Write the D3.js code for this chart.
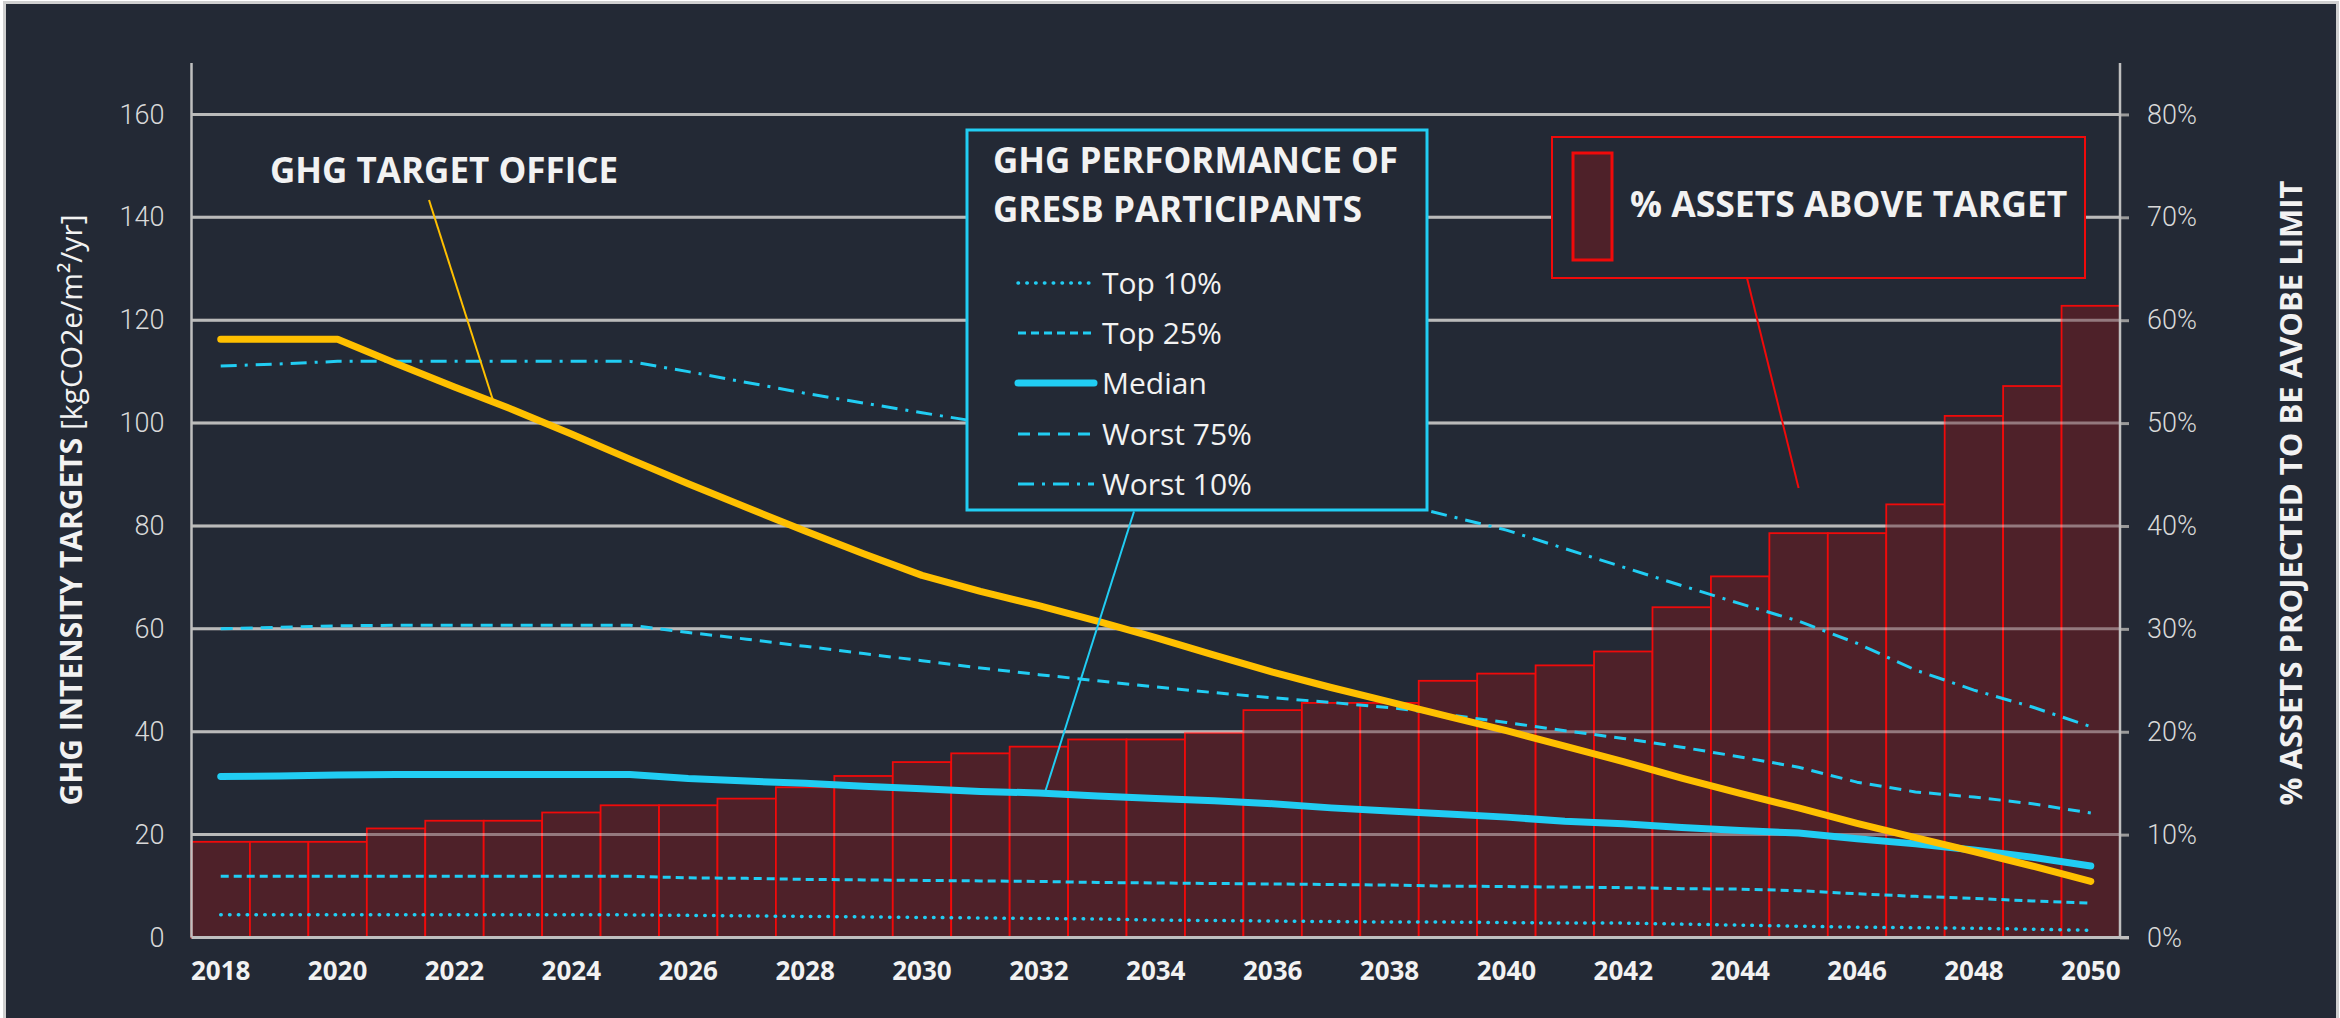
<!DOCTYPE html>
<html>
<head>
<meta charset="utf-8">
<script src="https://cdn.jsdelivr.net/npm/d3@7"></script>
<style>
  html, body { margin: 0; padding: 0; background: #ffffff; }
  svg { display: block; }
</style>
</head>
<body>
<div class="container"></div>
<script>
/* Chart data */
const years = d3.range(2018, 2051);
const pctAbove = [0.093, 0.093, 0.093, 0.106, 0.1135, 0.1135, 0.1215, 0.1285, 0.1285, 0.135,
                  0.146, 0.157, 0.1705, 0.179, 0.1855, 0.1925, 0.1925, 0.199, 0.221, 0.228,
                  0.228, 0.2495, 0.2565, 0.2645, 0.278, 0.321, 0.351, 0.393, 0.393, 0.421,
                  0.507, 0.536, 0.614];
const targetOffice = [116.3, 116.3, 116.3, 111.6, 107.0, 102.6, 97.9, 93.0, 88.2, 83.6,
                      79.0, 74.6, 70.4, 67.3, 64.5, 61.5, 58.3, 54.9, 51.6, 48.6,
                      45.8, 43.0, 40.2, 37.2, 34.2, 31.0, 28.0, 25.2, 22.2, 19.4,
                      16.7, 13.9, 10.9];
const top10 = [4.4, 4.4, 4.4, 4.4, 4.4, 4.4, 4.4, 4.4, 4.3, 4.2,
               4.1, 4.0, 3.9, 3.8, 3.7, 3.6, 3.4, 3.3, 3.2, 3.1,
               3.0, 3.0, 2.9, 2.8, 2.8, 2.6, 2.4, 2.2, 2.0, 1.9,
               1.8, 1.6, 1.4];
const top25 = [11.9, 11.9, 11.9, 11.9, 11.9, 11.9, 11.9, 11.9, 11.6, 11.5,
               11.3, 11.2, 11.1, 11.0, 10.9, 10.7, 10.6, 10.5, 10.4, 10.3,
               10.2, 10.0, 9.9, 9.8, 9.7, 9.5, 9.4, 9.1, 8.5, 8.0,
               7.6, 7.1, 6.7];
const median = [31.3, 31.4, 31.6, 31.7, 31.7, 31.7, 31.7, 31.7, 30.9, 30.4,
                30.0, 29.4, 28.9, 28.4, 28.1, 27.5, 27.0, 26.6, 26.0, 25.2,
                24.6, 24.0, 23.4, 22.6, 22.1, 21.4, 20.8, 20.3, 19.2, 18.2,
                17.0, 15.6, 13.9];
const worst75 = [60.0, 60.3, 60.6, 60.7, 60.7, 60.7, 60.7, 60.7, 59.3, 58.0,
                 56.6, 55.2, 53.8, 52.4, 51.1, 49.9, 48.7, 47.6, 46.6, 45.7,
                 44.7, 43.3, 41.8, 40.2, 38.7, 37.0, 35.1, 33.1, 30.2, 28.3,
                 27.3, 26.0, 24.2];
const worst10 = [111.1, 111.5, 112.0, 112.0, 112.0, 112.0, 112.0, 112.0, 110.0, 107.9,
                 105.8, 103.9, 102.0, 100.2, 98.4, 96.5, 94.6, 92.6, 90.4, 88.0,
                 84.8, 82.0, 79.2, 75.6, 72.0, 68.4, 64.9, 61.5, 57.2, 52.0,
                 48.1, 44.8, 41.0];
const leftTicks = [0, 20, 40, 60, 80, 100, 120, 140, 160];
const rightTicks = [0, 0.1, 0.2, 0.3, 0.4, 0.5, 0.6, 0.7, 0.8];
const yearLabels = d3.range(2018, 2051, 2);

const seriesList = [
  { name: "Top 10%", values: top10, width: 3.5, dash: "0.5,8.3", cap: "round" },
  { name: "Top 25%", values: top25, width: 3, dash: "8,5", cap: "butt" },
  { name: "Median", values: median, width: 7, dash: null, cap: "round" },
  { name: "Worst 75%", values: worst75, width: 3, dash: "12,8", cap: "butt" },
  { name: "Worst 10%", values: worst10, width: 3, dash: "16,8,3,8", cap: "butt" }
];

const w = 2340;
const h = 1018;
const padLeft = 191.5, padRight = 2120, padTop = 63, padBottom = 937.5;

const bg = "#232935";
const cyan = "#21CDF3";
const yellow = "#FFC000";
const red = "#F00A0A";

const svg = d3.select(".container").append("svg")
  .attr("width", w).attr("height", h);

/* Panel with light frame */
svg.append("rect")
  .attr("x", 4.5).attr("y", 2.5)
  .attr("width", 2333).attr("height", 1030)
  .attr("fill", bg)
  .attr("stroke", "#cfcfcf")
  .attr("stroke-width", 3);

/* Scales */
const xScale = d3.scaleBand().domain(years).range([padLeft, padRight]).padding(0);
const xC = (yr) => padLeft + (yr - 2018 + 0.5) * xScale.step();
const yScale = d3.scaleLinear().domain([0, 170]).range([padBottom, padTop]);
const yRight = d3.scaleLinear().domain([0, 0.85]).range([padBottom, padTop]);

const valueAt = (arr, yr) => {
  const i = Math.floor(yr - 2018);
  const t = yr - 2018 - i;
  return arr[i] + (arr[i + 1] - arr[i]) * t;
};

/* Gridlines (drawn on bg first) */
svg.append("g").selectAll("line")
  .data(leftTicks.slice(1))
  .enter().append("line")
  .attr("x1", padLeft).attr("x2", padRight)
  .attr("y1", (d) => yScale(d)).attr("y2", (d) => yScale(d))
  .attr("stroke", "#8c8c8c")
  .attr("stroke-width", 3);

/* Bars: % assets above target */
svg.append("g").selectAll("rect")
  .data(years)
  .enter().append("rect")
  .attr("x", (d) => xScale(d))
  .attr("y", (d, i) => yRight(pctAbove[i]))
  .attr("width", xScale.bandwidth())
  .attr("height", (d, i) => padBottom - yRight(pctAbove[i]))
  .attr("fill", "#4E2129")
  .attr("stroke", red)
  .attr("stroke-width", 1.8);

/* Gridlines again, semi transparent over bars */
svg.append("g").selectAll("line")
  .data(leftTicks.slice(1))
  .enter().append("line")
  .attr("x1", padLeft).attr("x2", padRight)
  .attr("y1", (d) => yScale(d)).attr("y2", (d) => yScale(d))
  .attr("stroke", "#ffffff")
  .attr("stroke-opacity", 0.4)
  .attr("stroke-width", 3);

/* Axes */
const yAxis = d3.axisLeft(yScale).tickValues(leftTicks).tickSize(0).tickPadding(27);
const gy = svg.append("g").attr("transform", "translate(" + padLeft + ",0)").call(yAxis);
gy.select(".domain").remove();

const yAxisR = d3.axisRight(yRight).tickValues(rightTicks)
  .tickFormat(d3.format(".0%")).tickSize(9).tickPadding(18);
const gyr = svg.append("g").attr("transform", "translate(" + padRight + ",0)").call(yAxisR);
gyr.select(".domain").remove();
gyr.selectAll(".tick line").attr("stroke", "#9a9a9a").attr("stroke-width", 3);

[gy, gyr].forEach((g) => {
  g.selectAll("text")
    .attr("fill", "#d9d9d9")
    .style("font-family", "Roboto, sans-serif")
    .style("font-weight", 300)
    .style("font-size", "27px");
});

const xAxis = d3.axisBottom(xScale).tickValues(yearLabels).tickSize(0).tickPadding(24);
const gx = svg.append("g").attr("transform", "translate(0," + padBottom + ")").call(xAxis);
gx.select(".domain").remove();
gx.selectAll("text")
  .attr("fill", "#f2f2f2")
  .style("font-family", "'Open Sans', sans-serif")
  .style("font-weight", 700)
  .style("font-size", "26px");

/* Axis lines */
svg.append("line").attr("x1", padLeft).attr("x2", padLeft).attr("y1", padTop).attr("y2", padBottom)
  .attr("stroke", "#bfbfbf").attr("stroke-width", 2.5);
svg.append("line").attr("x1", padRight).attr("x2", padRight).attr("y1", padTop).attr("y2", padBottom)
  .attr("stroke", "#bfbfbf").attr("stroke-width", 2.5);
svg.append("line").attr("x1", padLeft).attr("x2", padRight + 9).attr("y1", padBottom).attr("y2", padBottom)
  .attr("stroke", "#bfbfbf").attr("stroke-width", 3);

/* Series lines */
const line = d3.line()
  .x((d, i) => xC(years[i]))
  .y((d) => yScale(d));

seriesList.forEach((s) => {
  svg.append("path")
    .datum(s.values)
    .attr("d", line)
    .attr("fill", "none")
    .attr("stroke", cyan)
    .attr("stroke-width", s.width)
    .attr("stroke-dasharray", s.dash)
    .attr("stroke-linecap", s.cap)
    .attr("stroke-linejoin", "round");
});

svg.append("path")
  .datum(targetOffice)
  .attr("d", line)
  .attr("fill", "none")
  .attr("stroke", yellow)
  .attr("stroke-width", 7)
  .attr("stroke-linecap", "round")
  .attr("stroke-linejoin", "round");

/* Axis titles */
const leftTitle = svg.append("text")
  .attr("transform", "translate(70,510) rotate(-90)")
  .attr("text-anchor", "middle")
  .attr("dominant-baseline", "central")
  .attr("fill", "#f2f2f2")
  .style("font-family", "'Open Sans', sans-serif")
  .style("font-size", "30px");
leftTitle.append("tspan").style("font-weight", 700).text("GHG INTENSITY TARGETS ");
leftTitle.append("tspan").style("font-weight", 400).text("[kgCO2e/m²/yr]");

svg.append("text")
  .attr("transform", "translate(2290,493) rotate(-90)")
  .attr("text-anchor", "middle")
  .attr("dominant-baseline", "central")
  .attr("fill", "#f2f2f2")
  .style("font-family", "'Open Sans', sans-serif")
  .style("font-weight", 700)
  .style("font-size", "31px")
  .text("% ASSETS PROJECTED TO BE AVOBE LIMIT");

/* GHG target office annotation */
svg.append("line")
  .attr("x1", 429).attr("y1", 200)
  .attr("x2", xC(2022.67)).attr("y2", yScale(valueAt(targetOffice, 2022.67)))
  .attr("stroke", yellow).attr("stroke-width", 2);
svg.append("text")
  .attr("x", 270).attr("y", 183)
  .attr("fill", "#f2f2f2")
  .style("font-family", "'Open Sans', sans-serif")
  .style("font-weight", 700)
  .style("font-size", "35px")
  .text("GHG TARGET OFFICE");

/* Legend box: GRESB participants */
svg.append("rect")
  .attr("x", 967).attr("y", 130).attr("width", 460).attr("height", 380)
  .attr("fill", bg).attr("stroke", cyan).attr("stroke-width", 3);
svg.append("line")
  .attr("x1", 1134).attr("y1", 511.5)
  .attr("x2", xC(2032.1)).attr("y2", yScale(valueAt(median, 2032.1)))
  .attr("stroke", cyan).attr("stroke-width", 2);

const legTitle = svg.append("text")
  .attr("fill", "#f2f2f2")
  .style("font-family", "'Open Sans', sans-serif")
  .style("font-weight", 700)
  .style("font-size", "35px");
legTitle.append("tspan").attr("x", 993).attr("y", 173).text("GHG PERFORMANCE OF");
legTitle.append("tspan").attr("x", 993).attr("y", 222).text("GRESB PARTICIPANTS");

const rowY = [283, 333, 383, 434, 484];
seriesList.forEach((s, i) => {
  svg.append("line")
    .attr("x1", 1018).attr("x2", 1094)
    .attr("y1", rowY[i]).attr("y2", rowY[i])
    .attr("stroke", cyan)
    .attr("stroke-width", s.width)
    .attr("stroke-dasharray", s.dash)
    .attr("stroke-linecap", s.cap);
  svg.append("text")
    .attr("x", 1102).attr("y", rowY[i] + 11)
    .attr("fill", "#f2f2f2")
    .style("font-family", "'Open Sans', sans-serif")
    .style("font-size", "30px")
    .text(s.name);
});

/* Legend box: % assets above target */
svg.append("line")
  .attr("x1", 1747).attr("y1", 278)
  .attr("x2", xC(2045)).attr("y2", yRight(0.437))
  .attr("stroke", red).attr("stroke-width", 2);
svg.append("rect")
  .attr("x", 1552).attr("y", 137).attr("width", 533).attr("height", 141)
  .attr("fill", bg).attr("stroke", red).attr("stroke-width", 2);
svg.append("rect")
  .attr("x", 1573).attr("y", 153).attr("width", 39).attr("height", 107)
  .attr("fill", "#4E2129").attr("stroke", red).attr("stroke-width", 3);
svg.append("text")
  .attr("x", 1630).attr("y", 217)
  .attr("fill", "#f2f2f2")
  .style("font-family", "'Open Sans', sans-serif")
  .style("font-weight", 700)
  .style("font-size", "35.5px")
  .text("% ASSETS ABOVE TARGET");
</script>
</body>
</html>
